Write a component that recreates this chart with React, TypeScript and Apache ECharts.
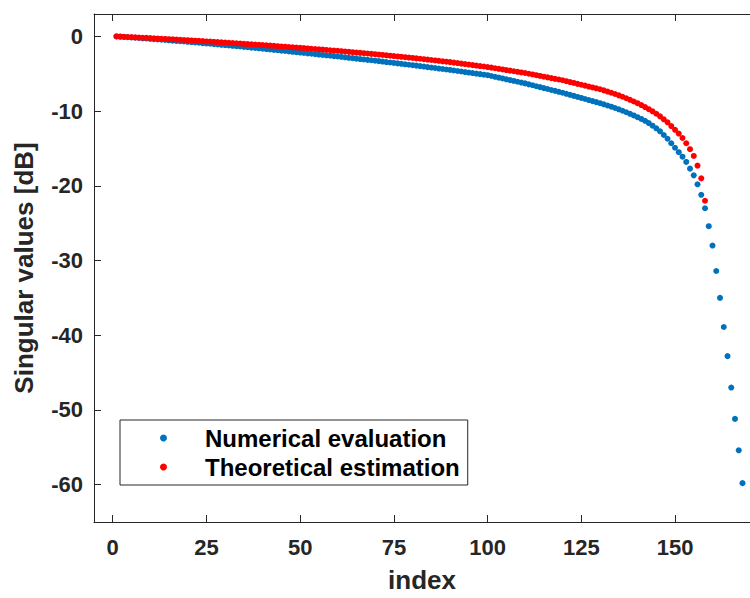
import React, { useEffect, useRef } from "react";
import * as echarts from "echarts";

const numericalEvaluation: number[] = [
  0.00, -0.04, -0.07, -0.11, -0.14, -0.18, -0.21, -0.25, -0.28, -0.32,
  -0.36, -0.40, -0.44, -0.48, -0.52, -0.56, -0.60, -0.64, -0.68, -0.72,
  -0.76, -0.81, -0.85, -0.90, -0.94, -0.98, -1.03, -1.07, -1.12, -1.16,
  -1.21, -1.26, -1.30, -1.35, -1.40, -1.45, -1.50, -1.54, -1.59, -1.64,
  -1.69, -1.74, -1.80, -1.85, -1.90, -1.95, -2.00, -2.06, -2.11, -2.16,
  -2.21, -2.27, -2.32, -2.37, -2.43, -2.48, -2.53, -2.58, -2.64, -2.69,
  -2.75, -2.80, -2.86, -2.91, -2.97, -3.03, -3.08, -3.14, -3.19, -3.25,
  -3.31, -3.37, -3.43, -3.49, -3.55, -3.61, -3.67, -3.73, -3.79, -3.85,
  -3.91, -3.98, -4.04, -4.11, -4.17, -4.23, -4.30, -4.36, -4.43, -4.49,
  -4.56, -4.63, -4.70, -4.77, -4.84, -4.91, -4.98, -5.05, -5.12, -5.19,
  -5.30, -5.41, -5.52, -5.63, -5.74, -5.85, -5.96, -6.07, -6.18, -6.29,
  -6.42, -6.54, -6.67, -6.79, -6.92, -7.04, -7.17, -7.29, -7.42, -7.54,
  -7.68, -7.82, -7.96, -8.10, -8.24, -8.38, -8.52, -8.66, -8.80, -8.94,
  -9.09, -9.25, -9.41, -9.58, -9.76, -9.95, -10.15, -10.36, -10.58, -10.81,
  -11.05, -11.30, -11.60, -11.95, -12.30, -12.70, -13.20, -13.70, -14.30, -14.90,
  -15.5, -16.1, -16.8, -17.7, -18.6, -19.8, -21.2, -23.0, -25.4, -28.0,
  -31.4, -35.0, -38.9, -42.8, -47.0, -51.2, -55.4, -59.8,
];

const theoreticalEstimation: number[] = [
  0.00, -0.03, -0.05, -0.08, -0.10, -0.13, -0.15, -0.18, -0.20, -0.23,
  -0.26, -0.29, -0.31, -0.34, -0.37, -0.40, -0.43, -0.45, -0.48, -0.51,
  -0.54, -0.57, -0.60, -0.63, -0.67, -0.70, -0.73, -0.76, -0.79, -0.82,
  -0.85, -0.89, -0.92, -0.96, -0.99, -1.02, -1.06, -1.09, -1.13, -1.16,
  -1.20, -1.23, -1.27, -1.31, -1.35, -1.38, -1.42, -1.46, -1.49, -1.53,
  -1.57, -1.61, -1.65, -1.69, -1.73, -1.77, -1.81, -1.85, -1.89, -1.93,
  -1.98, -2.02, -2.07, -2.11, -2.16, -2.20, -2.25, -2.29, -2.34, -2.38,
  -2.43, -2.48, -2.53, -2.58, -2.63, -2.68, -2.73, -2.78, -2.83, -2.88,
  -2.94, -2.99, -3.05, -3.10, -3.16, -3.22, -3.27, -3.33, -3.38, -3.44,
  -3.51, -3.57, -3.64, -3.70, -3.77, -3.84, -3.90, -3.97, -4.03, -4.10,
  -4.18, -4.26, -4.34, -4.42, -4.50, -4.58, -4.66, -4.74, -4.82, -4.90,
  -5.00, -5.09, -5.19, -5.29, -5.39, -5.48, -5.58, -5.68, -5.77, -5.87,
  -5.99, -6.11, -6.23, -6.35, -6.47, -6.59, -6.71, -6.83, -6.95, -7.07,
  -7.22, -7.38, -7.54, -7.71, -7.89, -8.08, -8.28, -8.49, -8.71, -8.94,
  -9.19, -9.46, -9.74, -10.03, -10.35, -10.70, -11.10, -11.50, -12.00, -12.50,
  -13.0, -13.6, -14.3, -15.1, -16.0, -17.3, -19.0, -22.0,
];

const xTicks: number[] = [0, 25, 50, 75, 100, 125, 150];
const yTicks: number[] = [0, -10, -20, -30, -40, -50, -60];

const seriesNames = ["Numerical evaluation", "Theoretical estimation"];

const FONT = "'Liberation Sans', Arial, Helvetica, sans-serif";
const AXIS_COLOR = "#262626";

export default function App() {
  const ref = useRef<HTMLDivElement>(null);

  useEffect(() => {
    if (!ref.current) return;
    const chart = echarts.init(ref.current, undefined, { renderer: "svg" });

    const toPairs = (arr: number[]) => arr.map((v, i) => [i + 1, v]);

    const axisLineStyle = { lineStyle: { color: AXIS_COLOR, width: 1 } };

    chart.setOption({
      animation: false,
      backgroundColor: "#ffffff",
      grid: { left: 94, top: 14, right: -9, bottom: 70, containLabel: false },
      legend: {
        orient: "vertical",
        left: 120,
        top: 420,
        data: seriesNames,
        icon: "circle",
        itemWidth: 7,
        itemHeight: 7,
        itemGap: 5,
        padding: [6, 8, 6, 40],
        borderColor: AXIS_COLOR,
        borderWidth: 1,
        borderRadius: 0,
        backgroundColor: "#ffffff",
        textStyle: {
          fontFamily: FONT,
          fontSize: 24,
          fontWeight: "bold",
          color: "#000000",
          padding: [0, 0, 0, 33],
        },
      },
      xAxis: [
        {
          type: "value",
          min: -5,
          max: 170,
          position: "bottom",
          name: "index",
          nameLocation: "middle",
          nameGap: 45,
          nameTextStyle: { fontFamily: FONT, fontSize: 26, fontWeight: "bold", color: AXIS_COLOR },
          axisLine: { show: true, onZero: false, ...axisLineStyle },
          axisTick: { show: true, inside: true, length: 7, customValues: xTicks, lineStyle: { color: AXIS_COLOR } },
          axisLabel: {
            customValues: xTicks,
            margin: 14,
            fontFamily: FONT,
            fontSize: 22,
            fontWeight: "bold",
            color: AXIS_COLOR,
          },
          splitLine: { show: false },
        },
        {
          type: "value",
          min: -5,
          max: 170,
          position: "top",
          axisLine: { show: true, onZero: false, ...axisLineStyle },
          axisTick: { show: true, inside: true, length: 7, customValues: xTicks, lineStyle: { color: AXIS_COLOR } },
          axisLabel: { show: false },
          splitLine: { show: false },
        },
      ],
      yAxis: [
        {
          type: "value",
          min: -65,
          max: 3,
          position: "left",
          name: "Singular values [dB]",
          nameLocation: "middle",
          nameGap: 57,
          nameRotate: 90,
          nameTextStyle: { fontFamily: FONT, fontSize: 26, fontWeight: "bold", color: AXIS_COLOR },
          axisLine: { show: true, onZero: false, ...axisLineStyle },
          axisTick: { show: true, inside: true, length: 7, customValues: yTicks, lineStyle: { color: AXIS_COLOR } },
          axisLabel: {
            customValues: yTicks,
            margin: 11,
            fontFamily: FONT,
            fontSize: 22,
            fontWeight: "bold",
            color: AXIS_COLOR,
          },
          splitLine: { show: false },
        },
      ],
      series: [
        {
          name: seriesNames[0],
          type: "scatter",
          xAxisIndex: 0,
          yAxisIndex: 0,
          symbol: "circle",
          symbolSize: 6,
          itemStyle: { color: "#0072BD", opacity: 1 },
          data: toPairs(numericalEvaluation),
          clip: true,
        },
        {
          name: seriesNames[1],
          type: "scatter",
          xAxisIndex: 0,
          yAxisIndex: 0,
          symbol: "circle",
          symbolSize: 6,
          itemStyle: { color: "#FF0000", opacity: 1 },
          data: toPairs(theoreticalEstimation),
          clip: true,
        },
      ],
    });

    return () => chart.dispose();
  }, []);

  return (
    <div
      ref={ref}
      style={{ position: "fixed", left: 0, top: 0, width: 750, height: 598, background: "#fff" }}
    />
  );
}
